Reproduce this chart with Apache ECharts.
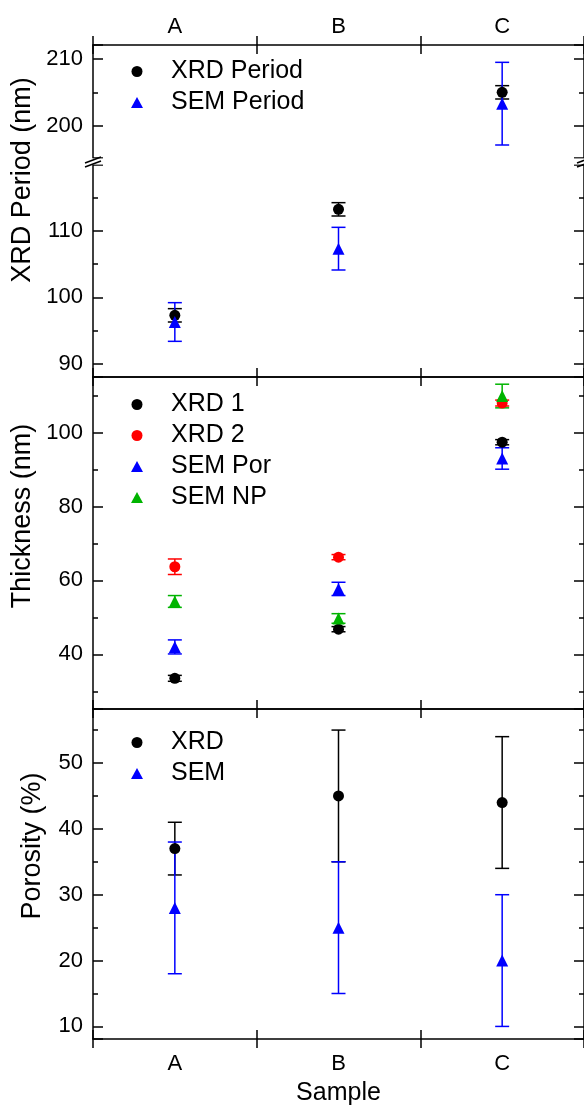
<!DOCTYPE html>
<html>
<head>
<meta charset="utf-8">
<script src="https://cdn.jsdelivr.net/npm/echarts@6/dist/echarts.min.js"></script>
<style>
  html, body { margin: 0; padding: 0; background: #fff; }
  #chart { width: 584px; height: 1107px; }
</style>
</head>
<body>
<div id="chart"></div>
<script>
var samples = ['A', 'B', 'C'];

// top panel: period (broken axis)
var xrdPeriod = [97.3, 113.2, 205.0];
var xrdPeriodErr = [1.0, 1.0, 1.0];
var semPeriod = [96.3, 107.3, 203.3];
var semPeriodErr = [2.9, 3.2, 6.2];

// middle panel: thickness
var xrd1 = [33.5, 46.8, 97.4];
var xrd1Err = [0.8, 0.7, 0.7];
var xrd2 = [63.7, 66.3, 108.0];
var xrd2Err = [2.1, 0.7, 0.8];
var semPor = [42.0, 57.7, 93.0];
var semPorErr = [1.9, 1.8, 2.9];
var semNP = [54.3, 49.7, 109.9];
var semNPErr = [1.6, 1.3, 3.2];

// bottom panel: porosity
var xrdPorosity = [37, 45, 44];
var xrdPorosityErr = [4, 10, 10];
var semPorosity = [28, 25, 20];
var semPorosityErr = [10, 10, 10];

var BREAK_AT = 150; // values above go to the upper part of the top panel

var F = '"Liberation Sans", Arial, sans-serif';
var BLACK = '#000000', RED = '#ff0000', BLUE = '#0000ff', GREEN = '#00b400';

var chart = echarts.init(document.getElementById('chart'));

function upper(v) { return v > BREAK_AT; }
function lower(v) { return v <= BREAK_AT; }
function any() { return true; }

function pick(vals, keep) {
  return vals.map(function (v) { return keep(v) ? v : '-'; });
}

function yAx(grid, min, max, split, right) {
  return {
    type: 'value', gridIndex: grid, min: min, max: max, splitNumber: split,
    position: right ? 'right' : 'left',
    axisLine: { show: true, lineStyle: { color: BLACK, width: 1.5 } },
    axisTick: { show: true, inside: true, length: 10, lineStyle: { color: BLACK, width: 1.5 } },
    minorTick: { show: true, splitNumber: 2, length: 5, lineStyle: { color: BLACK, width: 1.5 } },
    axisLabel: {
      show: !right, color: BLACK, fontFamily: F, fontSize: 22, margin: 10,
      formatter: function (v) {
        return Math.abs(v / 10 - Math.round(v / 10)) < 1e-6 ? String(Math.round(v)) : '';
      }
    },
    splitLine: { show: false }
  };
}

function xAx(grid, pos, inside, labels, line, margin) {
  return {
    type: 'category', gridIndex: grid, position: pos, data: samples, boundaryGap: true,
    axisLine: { show: line, lineStyle: { color: BLACK, width: 1.5 } },
    axisTick: { show: true, inside: inside, length: 9, interval: 0, lineStyle: { color: BLACK, width: 1.5 } },
    axisLabel: { show: labels, color: BLACK, fontFamily: F, fontSize: 22, margin: margin || 12 },
    splitLine: { show: false }
  };
}

function points(name, vals, keep, symbol, color, xi, yi) {
  return {
    name: name, type: 'scatter', xAxisIndex: xi, yAxisIndex: yi, z: 4,
    symbol: symbol, symbolSize: symbol === 'circle' ? 11 : [12, 12],
    itemStyle: { color: color, opacity: 1 },
    data: pick(vals, keep)
  };
}

function errBars(vals, errs, keep, color, xi, yi) {
  var data = [];
  vals.forEach(function (v, i) {
    if (keep(v)) data.push([i, v - errs[i], v + errs[i]]);
  });
  return {
    type: 'custom', xAxisIndex: xi, yAxisIndex: yi, silent: true, z: 3,
    data: data,
    encode: { x: 0, y: [1, 2] },
    renderItem: function (params, api) {
      var lo = api.coord([api.value(0), api.value(1)]);
      var hi = api.coord([api.value(0), api.value(2)]);
      var w = 7;
      var st = { stroke: color, lineWidth: 1.5 };
      return {
        type: 'group', children: [
          { type: 'line', shape: { x1: lo[0], y1: lo[1], x2: hi[0], y2: hi[1] }, style: st },
          { type: 'line', shape: { x1: lo[0] - w, y1: lo[1], x2: lo[0] + w, y2: lo[1] }, style: st },
          { type: 'line', shape: { x1: hi[0] - w, y1: hi[1], x2: hi[0] + w, y2: hi[1] }, style: st }
        ]
      };
    }
  };
}

function legendAt(top, items) {
  return {
    top: top, left: 126, orient: 'vertical', itemGap: 6,
    itemWidth: 12, itemHeight: 11, selectedMode: false,
    data: items,
    textStyle: { fontFamily: F, fontSize: 25, color: BLACK, lineHeight: 24, padding: [0, 0, 0, 23] }
  };
}

function yTitle(text, x, y) {
  return {
    type: 'text', x: x, y: y, rotation: Math.PI / 2, z: 50,
    style: { text: text, fontFamily: F, fontSize: 27, fill: BLACK, align: 'center', verticalAlign: 'middle' }
  };
}

function slash(x1, y1, x2, y2) {
  return { type: 'line', z: 101, shape: { x1: x1, y1: y1, x2: x2, y2: y2 }, style: { stroke: BLACK, lineWidth: 1.5 } };
}

var option = {
  backgroundColor: '#fff',
  animation: false,
  grid: [
    { left: 93, width: 492, top: 45, height: 113 },
    { left: 93, width: 492, top: 165, height: 212 },
    { left: 93, width: 492, top: 377, height: 332 },
    { left: 93, width: 492, top: 709, height: 333 }
  ],
  xAxis: [
    xAx(0, 'top', false, true, true, 7),
    xAx(0, 'top', true, false, false),
    xAx(1, 'bottom', true, false, true),
    xAx(2, 'top', true, false, true),
    xAx(2, 'bottom', true, false, true),
    xAx(3, 'top', true, false, true),
    Object.assign(xAx(3, 'bottom', false, true, true, 14), {
      name: 'Sample', nameLocation: 'middle', nameGap: 42,
      nameTextStyle: { fontFamily: F, fontSize: 25, color: BLACK }
    }),
    xAx(3, 'bottom', true, false, false)
  ],
  yAxis: [
    yAx(0, 195.15, 212.1, 2, false),
    yAx(0, 195.15, 212.1, 2, true),
    yAx(1, 88.05, 119.85, 3, false),
    yAx(1, 88.05, 119.85, 3, true),
    yAx(2, 25.2, 115.05, 4, false),
    yAx(2, 25.2, 115.05, 4, true),
    yAx(3, 8.09, 58.2, 5, false),
    yAx(3, 8.09, 58.2, 5, true)
  ],
  legend: [
    legendAt(54, [{ name: 'XRD Period', icon: 'circle' }, { name: 'SEM Period', icon: 'triangle' }]),
    legendAt(387, [{ name: 'XRD 1', icon: 'circle' }, { name: 'XRD 2', icon: 'circle' },
                   { name: 'SEM Por', icon: 'triangle' }, { name: 'SEM NP', icon: 'triangle' }]),
    legendAt(725, [{ name: 'XRD', icon: 'circle' }, { name: 'SEM', icon: 'triangle' }])
  ],
  graphic: [
    yTitle('XRD Period (nm)', 23, 180),
    yTitle('Thickness (nm)', 23, 516),
    yTitle('Porosity (%)', 33, 846),
    // axis break marks
    { type: 'rect', z: 100, shape: { x: 86, y: 158.5, width: 20, height: 6 }, style: { fill: '#fff' } },
    { type: 'rect', z: 100, shape: { x: 572, y: 158.5, width: 14, height: 6 }, style: { fill: '#fff' } },
    slash(85, 163, 101, 157), slash(85, 167, 101, 161),
    slash(577, 163, 593, 157), slash(577, 167, 593, 161)
  ],
  series: [
    // top panel, upper part
    errBars(xrdPeriod, xrdPeriodErr, upper, BLACK, 0, 0),
    errBars(semPeriod, semPeriodErr, upper, BLUE, 0, 0),
    points('XRD Period', xrdPeriod, upper, 'circle', BLACK, 0, 0),
    points('SEM Period', semPeriod, upper, 'triangle', BLUE, 0, 0),
    // top panel, lower part
    errBars(xrdPeriod, xrdPeriodErr, lower, BLACK, 2, 2),
    errBars(semPeriod, semPeriodErr, lower, BLUE, 2, 2),
    points('XRD Period', xrdPeriod, lower, 'circle', BLACK, 2, 2),
    points('SEM Period', semPeriod, lower, 'triangle', BLUE, 2, 2),
    // thickness
    errBars(xrd1, xrd1Err, any, BLACK, 4, 4),
    errBars(xrd2, xrd2Err, any, RED, 4, 4),
    errBars(semPor, semPorErr, any, BLUE, 4, 4),
    errBars(semNP, semNPErr, any, GREEN, 4, 4),
    points('XRD 1', xrd1, any, 'circle', BLACK, 4, 4),
    points('XRD 2', xrd2, any, 'circle', RED, 4, 4),
    points('SEM Por', semPor, any, 'triangle', BLUE, 4, 4),
    points('SEM NP', semNP, any, 'triangle', GREEN, 4, 4),
    // porosity
    errBars(xrdPorosity, xrdPorosityErr, any, BLACK, 6, 6),
    errBars(semPorosity, semPorosityErr, any, BLUE, 6, 6),
    points('XRD', xrdPorosity, any, 'circle', BLACK, 6, 6),
    points('SEM', semPorosity, any, 'triangle', BLUE, 6, 6)
  ]
};

chart.setOption(option);
</script>
</body>
</html>
